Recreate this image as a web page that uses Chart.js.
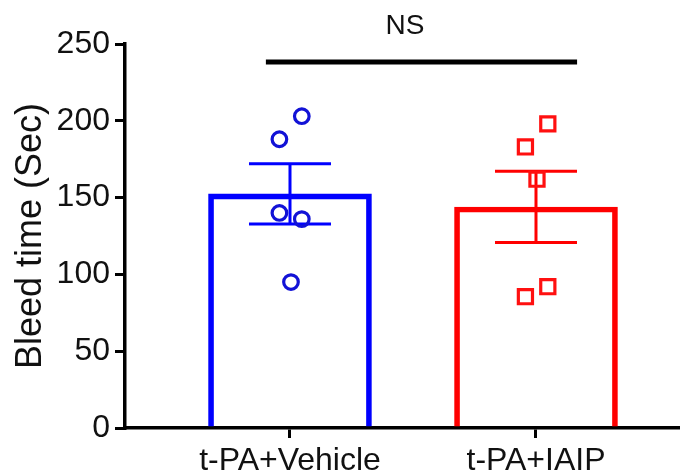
<!DOCTYPE html>
<html>
<head>
<meta charset="utf-8">
<script src="https://cdn.jsdelivr.net/npm/chart.js@4.4.1/dist/chart.umd.min.js"></script>
<style>
    html, body { margin: 0; padding: 0; background: #fff; }
    #wrap { width: 692px; height: 476px; }
</style>
</head>
<body>
<div id="wrap"><canvas id="chart" width="692" height="476"></canvas></div>
<script>
(function() {
    'use strict';

    var groups = ['t-PA+Vehicle', 't-PA+IAIP'];
    var groupX = [1, 2];
    var meanValues = [152.4, 143.9];
    var semValues = [19.6, 23.2];
    var vehiclePoints = [203, 188, 140, 136, 95];
    var vehicleJitter = [0.048, -0.043, -0.043, 0.048, 0.004];
    var iaipPoints = [198, 183, 162, 85.5, 92];
    var iaipJitter = [0.048, -0.043, 0.004, -0.043, 0.048];
    var yTicks = [0, 50, 100, 150, 200, 250];

    var barColors = ['#0000ff', '#ff0000'];
    var FONT = '"Liberation Sans", Arial, sans-serif';

    function points(values, jitter, gx) {
        var out = [];
        for (var i = 0; i < values.length; i++) {
            out.push({ x: gx + jitter[i], y: values[i] });
        }
        return out;
    }

    var barData = [];
    for (var i = 0; i < groupX.length; i++) {
        barData.push({ x: groupX[i], y: meanValues[i] });
    }

    // mean +/- SEM, drawn right after the bars
    var errorBars = {
        id: 'errorBars',
        afterDatasetDraw: function(chart, args) {
            if (args.index !== 0) return;
            var ctx = chart.ctx, xs = chart.scales.x, ys = chart.scales.y;
            ctx.save();
            ctx.lineWidth = 3;
            for (var i = 0; i < meanValues.length; i++) {
                var cx = xs.getPixelForValue(groupX[i]);
                var top = ys.getPixelForValue(meanValues[i] + semValues[i]);
                var bot = ys.getPixelForValue(meanValues[i] - semValues[i]);
                ctx.strokeStyle = barColors[i];
                ctx.beginPath();
                ctx.moveTo(cx, top); ctx.lineTo(cx, bot);
                ctx.moveTo(cx - 41, top); ctx.lineTo(cx + 41, top);
                ctx.moveTo(cx - 41, bot); ctx.lineTo(cx + 41, bot);
                ctx.stroke();
            }
            ctx.restore();
        }
    };

    // NS significance bracket
    var nsBracket = {
        id: 'nsBracket',
        afterDraw: function(chart) {
            var ctx = chart.ctx, xs = chart.scales.x, ys = chart.scales.y;
            var y = ys.getPixelForValue(238.3);
            ctx.save();
            ctx.strokeStyle = '#000';
            ctx.lineWidth = 5;
            ctx.beginPath();
            ctx.moveTo(xs.getPixelForValue(0.902), y);
            ctx.lineTo(xs.getPixelForValue(2.167), y);
            ctx.stroke();
            ctx.fillStyle = '#111';
            ctx.font = '28px ' + FONT;
            ctx.textAlign = 'center';
            ctx.textBaseline = 'middle';
            ctx.fillText('NS', xs.getPixelForValue(1.4675), 26);
            ctx.restore();
        }
    };

    new Chart(document.getElementById('chart').getContext('2d'), {
        type: 'bar',
        data: {
            datasets: [
                {
                    type: 'bar',
                    data: barData,
                    backgroundColor: 'rgba(0,0,0,0)',
                    borderColor: barColors,
                    borderWidth: 5,
                    borderSkipped: 'start',
                    barThickness: 163,
                    order: 2
                },
                {
                    type: 'scatter',
                    data: points(vehiclePoints, vehicleJitter, groupX[0]),
                    pointStyle: 'circle',
                    pointRadius: 7.3,
                    pointBorderWidth: 3.2,
                    pointBorderColor: '#1212d6',
                    pointBackgroundColor: 'rgba(0,0,0,0)',
                    order: 1
                },
                {
                    type: 'scatter',
                    data: points(iaipPoints, iaipJitter, groupX[1]),
                    pointStyle: 'rect',
                    pointRadius: 10,
                    pointBorderWidth: 3.2,
                    pointBorderColor: '#ff1010',
                    pointBackgroundColor: 'rgba(0,0,0,0)',
                    order: 1
                }
            ]
        },
        options: {
            responsive: false,
            animation: false,
            layout: { padding: { top: 44, right: 4, left: 0, bottom: 0 } },
            scales: {
                x: {
                    type: 'linear',
                    min: 0.3293,
                    max: 2.5805,
                    offset: false,
                    afterBuildTicks: function(s) {
                        s.ticks = groupX.map(function(v) { return { value: v }; });
                    },
                    afterFit: function(s) {
                        s.height = 48;
                        s.paddingLeft = 0;
                        s.paddingRight = 0;
                    },
                    ticks: {
                        autoSkip: false,
                        maxRotation: 0,
                        padding: 4,
                        color: '#111',
                        font: { family: FONT, size: 32 },
                        callback: function(v, idx) { return groups[idx]; }
                    },
                    grid: { offset: false, drawOnChartArea: false, tickLength: 10, lineWidth: 3, color: '#000' },
                    border: { display: true, width: 3.5, color: '#000' }
                },
                y: {
                    min: 0,
                    max: 250,
                    afterBuildTicks: function(s) {
                        s.ticks = yTicks.map(function(v) { return { value: v }; });
                    },
                    afterFit: function(s) { s.width = 125; },
                    ticks: {
                        padding: 5,
                        color: '#111',
                        font: { family: FONT, size: 32 }
                    },
                    grid: { drawOnChartArea: false, tickLength: 10, lineWidth: 3, color: '#000' },
                    border: { display: true, width: 3.5, color: '#000' },
                    title: {
                        display: true,
                        text: 'Bleed time (Sec)',
                        color: '#111',
                        font: { family: FONT, size: 36 },
                        padding: { top: 9, bottom: 0 }
                    }
                }
            },
            plugins: {
                legend: { display: false },
                tooltip: { enabled: false }
            }
        },
        plugins: [errorBars, nsBracket]
    });
})();
</script>
</body>
</html>
